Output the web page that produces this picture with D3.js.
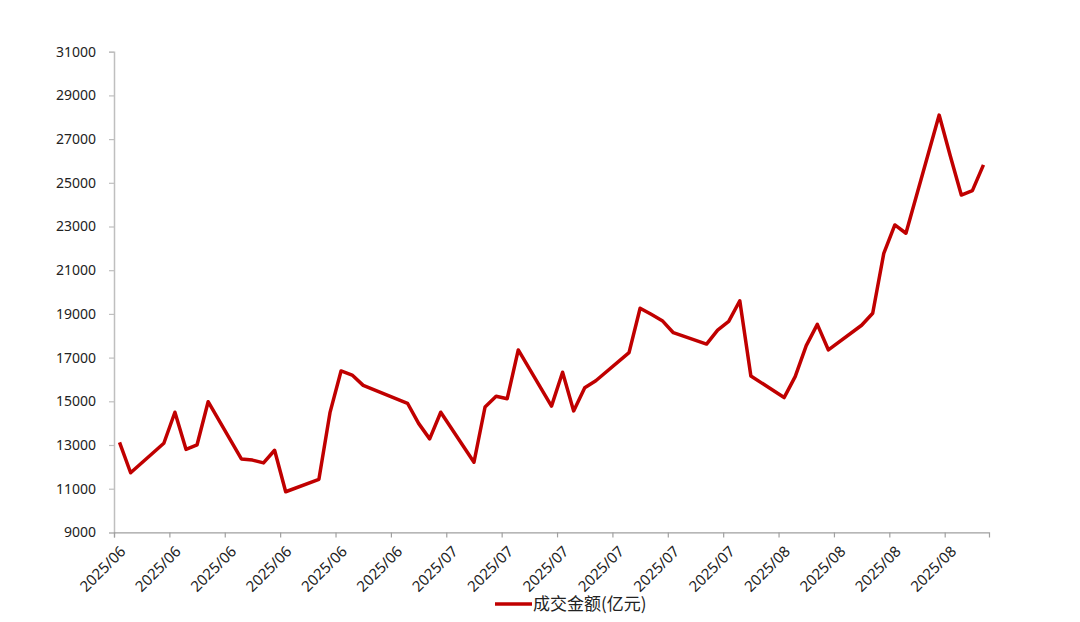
<!DOCTYPE html>
<html>
<head>
<meta charset="utf-8">
<script src="https://cdn.jsdelivr.net/npm/d3@7"></script>
<style>
  body { margin: 0; background: #fff; }
  text { font-family: "Noto Sans", "Liberation Sans", sans-serif; fill: #222; }
</style>
</head>
<body>
<div id="chart"></div>
<script>
// trading days (2025) and turnover in 亿元
var dates = [
  "2025-06-05","2025-06-06",
  "2025-06-09","2025-06-10","2025-06-11","2025-06-12","2025-06-13",
  "2025-06-16","2025-06-17","2025-06-18","2025-06-19","2025-06-20",
  "2025-06-23","2025-06-24","2025-06-25","2025-06-26","2025-06-27",
  "2025-06-30","2025-07-01","2025-07-02","2025-07-03","2025-07-04",
  "2025-07-07","2025-07-08","2025-07-09","2025-07-10","2025-07-11",
  "2025-07-14","2025-07-15","2025-07-16","2025-07-17","2025-07-18",
  "2025-07-21","2025-07-22","2025-07-23","2025-07-24","2025-07-25",
  "2025-07-28","2025-07-29","2025-07-30","2025-07-31","2025-08-01",
  "2025-08-04","2025-08-05","2025-08-06","2025-08-07","2025-08-08",
  "2025-08-11","2025-08-12","2025-08-13","2025-08-14","2025-08-15",
  "2025-08-18","2025-08-19","2025-08-20","2025-08-21","2025-08-22"
];
var turnover = [
  13120, 11730,
  13080, 14500, 12800, 13010, 14980,
  12360, 12310, 12180, 12760, 10860,
  11430, 14480, 16390, 16200, 15730,
  15110, 14910, 13990, 13280, 14500,
  12210, 14740, 15230, 15120, 17350,
  14780, 16330, 14560, 15620, 15940,
  17230, 19260, 18980, 18690, 18140,
  17620, 18260, 18660, 19600, 16160,
  15170, 16130, 17550, 18520, 17350,
  18480, 19030, 21770, 23070, 22690,
  28100, 26240, 24440, 24640, 25820
];
var yTicks = [9000, 11000, 13000, 15000, 17000, 19000, 21000, 23000, 25000, 27000, 29000, 31000];
var seriesName = "成交金额(亿元)";

var svgWidth = 1080;
var svgHeight = 622;
var margin = {top: 51.7, left: 114, right: 91, bottom: 89.6};
var chartWidth = svgWidth - margin.left - margin.right;
var chartHeight = svgHeight - margin.top - margin.bottom;

var parse = d3.utcParse("%Y-%m-%d");
var DAY = 864e5;
var data = dates.map(function(d, i) { return {date: parse(d), value: turnover[i]}; });

var start = data[0].date;
var end = new Date(data[data.length - 1].date.getTime() + DAY);

var svg = d3.select("#chart").append("svg")
  .attr("width", svgWidth)
  .attr("height", svgHeight)
  .append("g")
  .attr("transform", `translate(${margin.left},${margin.top})`);

var x = d3.scaleUtc().domain([start, end]).range([0, chartWidth]);
var y = d3.scaleLinear().domain([9000, 31000]).range([chartHeight, 0]);

// y axis
var yAxis = svg.append("g")
  .call(d3.axisLeft(y).tickValues(yTicks).tickSize(5).tickPadding(13).tickFormat(d3.format("d")));
yAxis.select(".domain").attr("stroke", "#bfbfbf").attr("stroke-width", 1.5);
yAxis.selectAll(".tick line").attr("stroke", "#bfbfbf").attr("stroke-width", 1.2);
yAxis.selectAll("text").style("font-size", "14px").attr("fill", "#222");

// x axis: ticks every 5 days, labels centred on their day
var tickDates = d3.utcDay.range(start, end, 1).filter(function(d, i) { return i % 5 === 0; });
var xAxis = svg.append("g")
  .attr("transform", `translate(0,${chartHeight})`)
  .call(d3.axisBottom(x).tickValues(tickDates).tickSize(5).tickFormat(""));
xAxis.select(".domain").attr("stroke", "#a0a0a0").attr("stroke-width", 1.2);
xAxis.selectAll(".tick line").attr("stroke", "#a0a0a0").attr("stroke-width", 1.2);

svg.append("g").selectAll("text")
  .data(tickDates)
  .enter()
  .append("text")
  .attr("transform", function(d) {
    var cx = x(new Date(d.getTime() + DAY / 2));
    return `translate(${cx + 7},${chartHeight + 20}) rotate(-45)`;
  })
  .attr("text-anchor", "end")
  .style("font-size", "15px")
  .text(d3.utcFormat("%Y/%m"));

// the line
var line = d3.line()
  .x(function(d) { return x(new Date(d.date.getTime() + DAY / 2)); })
  .y(function(d) { return y(d.value); });

svg.append("path")
  .datum(data)
  .attr("fill", "none")
  .attr("stroke", "#C00000")
  .attr("stroke-width", 3.5)
  .attr("stroke-linejoin", "round")
  .attr("d", line);

// legend
var legend = svg.append("g").attr("transform", `translate(${495 - margin.left},${604 - margin.top})`);
legend.append("line")
  .attr("x1", 0).attr("x2", 37)
  .attr("stroke", "#C00000").attr("stroke-width", 3.5);
legend.append("text")
  .attr("x", 38).attr("dy", "0.35em")
  .style("font-family", "'Noto Sans CJK SC', sans-serif")
  .style("font-size", "17px")
  .text(seriesName);
</script>
</body>
</html>
